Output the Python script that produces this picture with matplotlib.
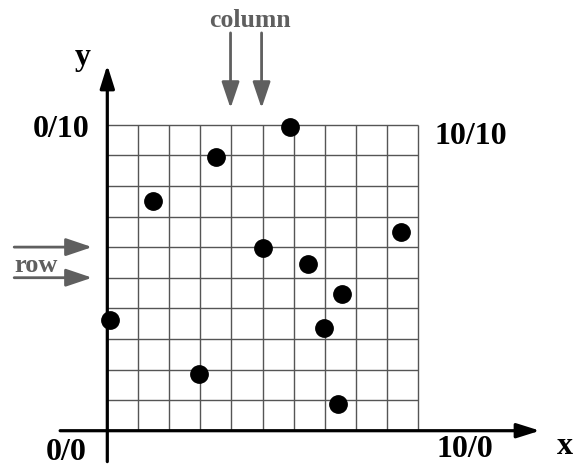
import matplotlib
matplotlib.use("Agg")
import matplotlib.pyplot as plt

# -------------------
# Data (grid units, 10 x 10)
# -------------------
dots_x = [5.9, 3.5, 1.48, 5.0, 0.1, 2.96, 9.46, 6.46, 7.57, 6.99, 7.44]
dots_y = [9.94, 8.93, 7.5, 5.96, 3.62, 1.85, 6.48, 5.44, 4.46, 3.35, 0.87]
n_cells = 10
column_marks = [4, 5]
row_marks = [6, 5]
corner_labels = {"0/10": (-1.49, 9.85), "10/10": (11.72, 9.61),
                 "0/0": (-1.33, -0.70), "10/0": (11.51, -0.60)}

serif = "Liberation Serif"
gray = "#5f5f5f"

# -------------------
# Figure
# -------------------
fig = plt.figure(figsize=(5.73, 4.67), dpi=100)
ax = fig.add_axes([0, 0, 1, 1])
ax.set_xlim(-3.457, 15.003)
ax.set_ylim(-1.186, 14.075)
ax.axis("off")

# grid
ax.vlines(range(1, n_cells + 1), 0, n_cells, color="#555555", lw=1.0, zorder=1)
ax.hlines(range(1, n_cells + 1), 0, n_cells, color="#555555", lw=1.0, zorder=1)

# axes with arrows
ax.annotate("", xy=(0, 11.95), xytext=(0, -1.01),
            arrowprops=dict(arrowstyle="-|>,head_length=0.7,head_width=0.22",
                            color="black", lw=2.3, mutation_scale=20, shrinkA=0, shrinkB=0),
            zorder=3)
ax.annotate("", xy=(13.94, 0), xytext=(-1.52, 0),
            arrowprops=dict(arrowstyle="-|>,head_length=0.7,head_width=0.22",
                            color="black", lw=2.3, mutation_scale=20, shrinkA=0, shrinkB=0),
            zorder=3)

# dots
ax.plot(dots_x, dots_y, "o", color="black", ms=12.5, zorder=4)

# column / row arrows
for c in column_marks:
    ax.annotate("", xy=(c - 0.03, 10.54), xytext=(c - 0.03, 13.0),
                arrowprops=dict(arrowstyle="-|>,head_length=0.8,head_width=0.27",
                                color=gray, lw=2.0, mutation_scale=20, shrinkA=0, shrinkB=0))
for r in row_marks:
    ax.annotate("", xy=(-0.49, r), xytext=(-3.0, r),
                arrowprops=dict(arrowstyle="-|>,head_length=0.8,head_width=0.27",
                                color=gray, lw=2.0, mutation_scale=20, shrinkA=0, shrinkB=0))

ax.text(4.6, 13.42, "column", ha="center", va="center", family=serif,
        weight="bold", fontsize=18.5, color=gray)
ax.text(-2.3, 5.41, "row", ha="center", va="center", family=serif,
        weight="bold", fontsize=19, color=gray)

# labels
for label, (lx, ly) in corner_labels.items():
    ax.text(lx, ly, label, ha="center", va="center", family=serif,
            weight="bold", fontsize=23)
ax.text(-0.78, 12.2, "y", ha="center", va="center", family=serif,
        weight="bold", fontsize=23)
ax.text(14.75, -0.53, "x", ha="center", va="center", family=serif,
        weight="bold", fontsize=23)

fig.savefig("out.png", dpi=100)
